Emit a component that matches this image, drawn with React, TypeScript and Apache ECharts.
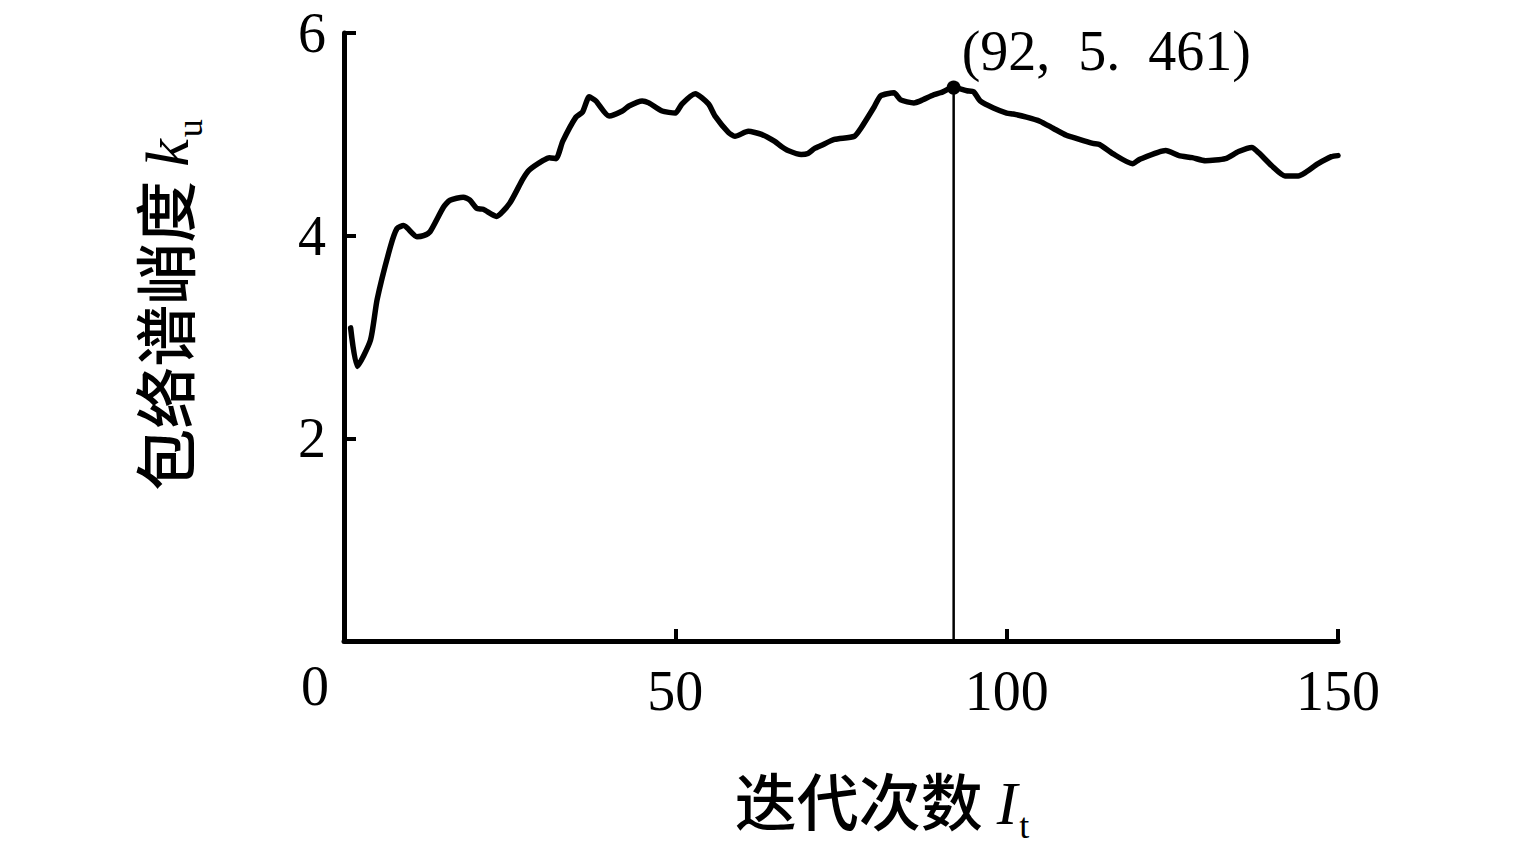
import React, { useEffect, useRef } from "react";
import * as echarts from "echarts";

const iterations = [1, 2, 4, 5, 7, 8, 9, 11, 12, 13, 15, 16, 18, 19, 20, 21, 23, 25, 27, 28, 30, 31, 32, 33, 35, 36, 37, 38, 40, 42, 43, 45, 46, 48, 50, 51, 53, 55, 56, 58, 59, 61, 63, 65, 66, 67, 69, 70, 71, 72, 74, 77, 78, 80, 81, 83, 84, 86, 87, 89, 90, 92, 94, 95, 96, 98, 100, 101, 103, 105, 107, 109, 110, 113, 114, 116, 119, 120, 124, 126, 128, 130, 133, 135, 137, 138, 140, 142, 144, 145, 147, 149, 150];
const kurtosis = [3.09, 2.71, 2.97, 3.37, 3.89, 4.07, 4.10, 3.99, 4.00, 4.04, 4.28, 4.35, 4.38, 4.35, 4.27, 4.26, 4.19, 4.32, 4.56, 4.65, 4.74, 4.77, 4.76, 4.93, 5.17, 5.22, 5.37, 5.33, 5.18, 5.23, 5.28, 5.33, 5.31, 5.23, 5.21, 5.30, 5.40, 5.30, 5.18, 5.02, 4.98, 5.03, 5.00, 4.93, 4.88, 4.84, 4.80, 4.81, 4.86, 4.89, 4.95, 4.98, 5.06, 5.27, 5.38, 5.41, 5.34, 5.31, 5.33, 5.39, 5.41, 5.461, 5.43, 5.42, 5.33, 5.26, 5.21, 5.20, 5.17, 5.13, 5.06, 4.99, 4.97, 4.91, 4.90, 4.81, 4.71, 4.75, 4.84, 4.79, 4.77, 4.74, 4.76, 4.83, 4.87, 4.82, 4.69, 4.59, 4.59, 4.62, 4.71, 4.78, 4.79];
const peakIter = 92;
const peakValue = 5.461;
const peakLabel = "(92,  5.  461)";
const xTicks = [50, 100, 150];
const yTicks = [2, 4, 6];
const xTitle = "迭代次数";
const yTitle = "包络谱峭度";

const SERIF = '"Liberation Serif", "DejaVu Serif", serif';
const CJK = '"Noto Sans CJK SC", sans-serif';

const titleRich = {
  a: { fontFamily: CJK, fontSize: 62, fontWeight: 500, fill: "#000", verticalAlign: "top" },
  b: { fontFamily: SERIF, fontStyle: "italic", fontSize: 62, fill: "#000", verticalAlign: "top", padding: [4, 0, 0, 0] },
  c: { fontFamily: SERIF, fontSize: 36, fill: "#000", verticalAlign: "top", padding: [40, 0, 0, 2] },
};

export default function App() {
  const ref = useRef<HTMLDivElement>(null);
  useEffect(() => {
    if (!ref.current) return;
    const chart = echarts.init(ref.current, null, { renderer: "svg" });
    const lineData = iterations.map((x, i) => [x, kurtosis[i]]);
    chart.setOption({
      animation: false,
      backgroundColor: "#fff",
      grid: { left: 344, right: 197, top: 33, bottom: 210, containLabel: false },
      xAxis: {
        type: "value",
        min: 0,
        max: 150,
        interval: 50,
        axisLine: { show: true, lineStyle: { color: "#000", width: 5 } },
        axisTick: { show: true, inside: true, length: 12, lineStyle: { color: "#000", width: 4 } },
        splitLine: { show: false },
        axisLabel: {
          margin: 22,
          fontFamily: SERIF,
          fontSize: 56,
          color: "#000",
          formatter: (v: number) => (xTicks.includes(v) ? String(v) : ""),
        },
      },
      yAxis: {
        type: "value",
        min: 0,
        max: 6,
        interval: 2,
        axisLine: { show: true, lineStyle: { color: "#000", width: 5 } },
        axisTick: { show: true, inside: true, length: 12, lineStyle: { color: "#000", width: 4 } },
        splitLine: { show: false },
        axisLabel: {
          margin: 18,
          fontFamily: SERIF,
          fontSize: 56,
          color: "#000",
          formatter: (v: number) => (yTicks.includes(v) ? String(v) : ""),
        },
      },
      graphic: [
        {
          type: "text",
          x: 315,
          y: 686,
          style: { text: "0", fontFamily: SERIF, fontSize: 56, fill: "#000", align: "center", verticalAlign: "middle" },
        },
        {
          type: "text",
          x: 882,
          y: 806,
          style: {
            text: "{a|" + xTitle + " }{b|I}{c|t}",
            align: "center",
            verticalAlign: "middle",
            rich: titleRich,
          },
        },
        {
          type: "text",
          x: 170,
          y: 305,
          rotation: Math.PI / 2,
          style: {
            text: "{a|" + yTitle + " }{b|k}{c|u}",
            align: "center",
            verticalAlign: "middle",
            rich: titleRich,
          },
        },
      ],
      series: [
        {
          type: "line",
          data: lineData,
          symbol: "none",
          smooth: 0.2,
          lineStyle: { color: "#000", width: 5.5, join: "round", cap: "round" },
          z: 3,
        },
        {
          type: "line",
          data: [[peakIter, 0], [peakIter, peakValue]],
          symbol: "none",
          lineStyle: { color: "#000", width: 2.5 },
          z: 2,
        },
        {
          type: "scatter",
          data: [[peakIter, peakValue]],
          symbol: "circle",
          symbolSize: 14,
          itemStyle: { color: "#000", opacity: 1 },
          z: 4,
          label: {
            show: true,
            formatter: peakLabel,
            position: [15, -58],
            align: "left",
            verticalAlign: "top",
            fontFamily: SERIF,
            fontSize: 56,
            color: "#000",
            opacity: 1,
          },
        },
      ],
    });
    return () => chart.dispose();
  }, []);
  return <div ref={ref} style={{ width: 1535, height: 851, margin: -8 }} />;
}
